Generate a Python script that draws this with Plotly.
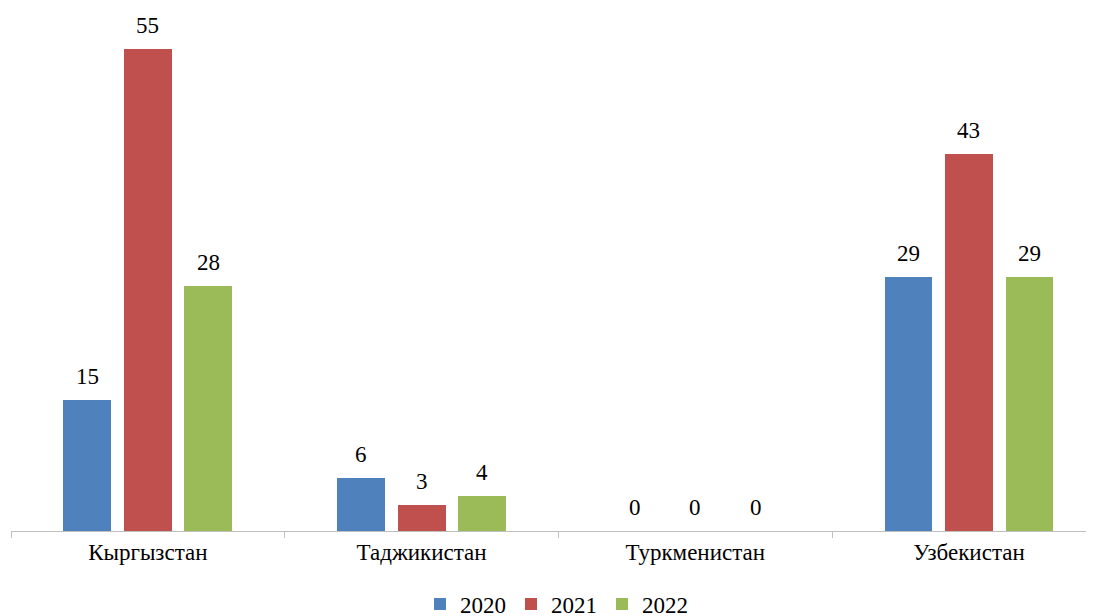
import plotly.graph_objects as go

countries = ["Кыргызстан", "Таджикистан", "Туркменистан", "Узбекистан"]
years = ["2020", "2021", "2022"]
values_2020 = [15, 6, 0, 29]
values_2021 = [55, 3, 0, 43]
values_2022 = [28, 4, 0, 29]
series = [values_2020, values_2021, values_2022]
colors = ["#4F81BD", "#C0504D", "#9BBB59"]

FONT = "Liberation Serif, Times New Roman, serif"
slot = 0.221
bar_w = 0.175

fig = go.Figure()
for j, (year, vals, color) in enumerate(zip(years, series, colors)):
    xs = [i + (j - 1) * slot for i in range(len(countries))]
    fig.add_trace(
        go.Bar(
            x=xs,
            y=vals,
            width=bar_w,
            name=year,
            marker_color=color,
            marker_line_width=0,
        )
    )
    for x, v in zip(xs, vals):
        fig.add_annotation(
            x=x, y=v, text=str(v), showarrow=False,
            yanchor="bottom", yshift=9,
            font=dict(family=FONT, size=23, color="#000000"),
        )

fig.update_layout(
    width=1094,
    height=616,
    plot_bgcolor="white",
    paper_bgcolor="white",
    margin=dict(l=3, r=0, t=2, b=93, autoexpand=False),
    font=dict(family=FONT, size=23, color="#000000"),
    bargap=0,
    showlegend=True,
    legend=dict(
        orientation="h", x=0.5, xanchor="center", y=-0.14, yanchor="middle",
        font=dict(family=FONT, size=23), traceorder="normal", itemwidth=30,
    ),
)
fig.update_xaxes(
    range=[-0.5, 3.486],
    tickmode="array",
    tickvals=list(range(len(countries))),
    ticktext=countries,
    ticks="",
    showgrid=False,
    zeroline=False,
    showline=True,
    linecolor="#BFBFBF",
    linewidth=1,
    automargin=False,
    minor=dict(
        tickmode="array",
        tickvals=[-0.5, 0.5, 1.5, 2.5, 3.5],
        ticks="outside",
        ticklen=6,
        tickcolor="#BFBFBF",
        tickwidth=1,
        showgrid=False,
    ),
    tickfont=dict(family=FONT, size=23),
)
fig.update_yaxes(range=[0, 59.45], visible=False)

fig.write_html("out.html")
